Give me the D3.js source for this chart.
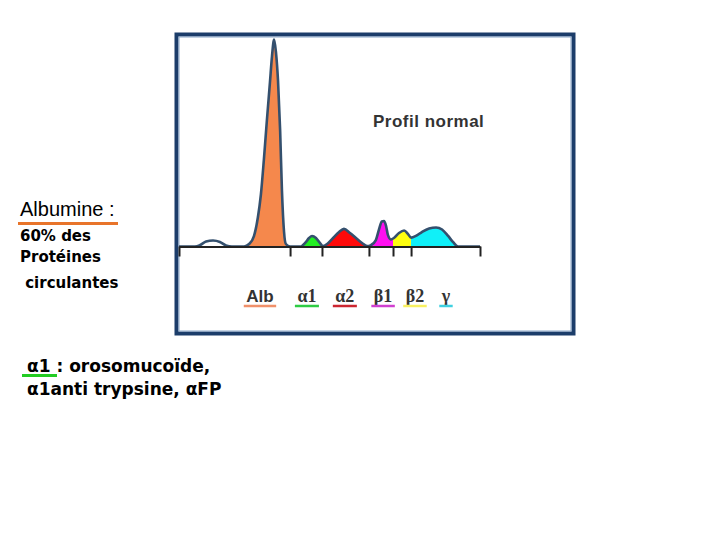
<!DOCTYPE html>
<html>
<head>
<meta charset="utf-8">
<script src="https://cdn.jsdelivr.net/npm/d3@7"></script>
<style>
  body { margin: 0; background: #fff; }
  svg { display: block; }
</style>
</head>
<body>
<div id="chart"></div>
<script>
// Serum protein electrophoresis - normal profile
// densitometry trace (mobility 0-100, density 0-100)
const mobility = [0, 5.3, 7.0, 9.0, 11.3, 13.6, 15.6, 17.6, 21.6, 23.3, 24.9, 26.2, 27.2, 28.2, 29.2, 30.2, 30.9, 31.6,
  32.2, 32.9, 33.6, 34.2, 34.9, 35.5, 36.9, 40.5, 41.9, 43.2, 44.2, 45.5, 46.8, 47.8, 49.2, 51.2, 53.2, 54.8, 56.8,
  58.8, 60.8, 62.5, 63.8, 65.4, 66.4, 67.4, 68.1, 68.8, 69.4, 70.4, 71.4, 73.1, 74.8, 76.1, 77.1, 78.7, 80.7, 83.1,
  85.4, 87.4, 89.4, 91.0, 92.7, 100];
const density = [0, 0, 0.7, 2.4, 2.9, 2.2, 0.5, 0, 0, 1.2, 5, 14, 25, 42, 61, 79, 92, 100,
  94, 80, 56, 27, 7, 1.2, 0, 0, 1.7, 4.1, 5.1, 4.1, 1.7, 0.2, 1.2, 4.1, 7, 8.5, 6.5,
  4.1, 1.7, 0.2, 0.7, 3.1, 8, 12.1, 12.3, 9.9, 5.6, 3.4, 4.1, 6.5, 7.7, 6, 4.3, 5.1, 7, 8.7,
  9.2, 8.2, 5.1, 2.2, 0, 0];

const fractions = ["Alb", "α1", "α2", "β1", "β2", "γ"];
const fractionStart = [20, 36.9, 47.5, 63.1, 71.1, 77.1];
const fractionEnd = [36.9, 47.5, 63.1, 71.1, 77.1, 100];
const fractionLabelAt = [26.9, 42.5, 55.1, 67.8, 78.4, 88.7];
const boundaries = [0, 36.9, 47.5, 63.1, 71.1, 77.1, 100];
const fillColors = ["#f5884c", "#22ee22", "#ff0a0a", "#ff10f0", "#ffff10", "#10f0f8"];
const lineColors = ["#f0906a", "#2ecc44", "#cc2630", "#d040d0", "#f8f060", "#40d0e0"];

const profile = mobility.map((m, i) => ({ m: m, d: density[i] }));

const svg = d3.select("#chart").append("svg")
  .attr("width", 720)
  .attr("height", 540);

svg.append("rect").attr("width", 720).attr("height", 540).attr("fill", "#fff");

// frame
svg.append("rect")
  .attr("x", 176.5).attr("y", 34.5)
  .attr("width", 397).attr("height", 299)
  .attr("fill", "none")
  .attr("stroke", "#1c3d6a")
  .attr("stroke-width", 4);
svg.append("rect")
  .attr("x", 179).attr("y", 37)
  .attr("width", 392).attr("height", 294)
  .attr("fill", "none")
  .attr("stroke", "#8aa6c8")
  .attr("stroke-width", 1);

const x = d3.scaleLinear().domain([0, 100]).range([179, 480]);
const y = d3.scaleLinear().domain([0, 100]).range([246.5, 39.5]);

const area = d3.area()
  .x(d => x(d.m))
  .y0(y(0))
  .y1(d => y(d.d))
  .curve(d3.curveMonotoneX);

const line = d3.line()
  .x(d => x(d.m))
  .y(d => y(d.d))
  .curve(d3.curveMonotoneX);

const defs = svg.append("defs");
fractions.forEach((f, i) => {
  defs.append("clipPath").attr("id", "clip" + i)
    .append("rect")
    .attr("x", x(fractionStart[i]))
    .attr("y", 0)
    .attr("width", x(fractionEnd[i]) - x(fractionStart[i]))
    .attr("height", 540);
});

fractions.forEach((f, i) => {
  svg.append("path")
    .datum(profile)
    .attr("clip-path", `url(#clip${i})`)
    .attr("d", area)
    .attr("fill", fillColors[i]);
});

svg.append("path")
  .datum(profile)
  .attr("d", line)
  .attr("fill", "none")
  .attr("stroke", "#34506e")
  .attr("stroke-width", 2.6)
  .attr("stroke-linejoin", "round");

// baseline with fraction boundaries
const axis = svg.append("g")
  .attr("transform", `translate(0,${y(0)})`)
  .call(d3.axisBottom(x).tickValues(boundaries).tickSize(10).tickSizeOuter(0).tickFormat(""));
axis.select(".domain").attr("stroke", "#222").attr("stroke-width", 2);
axis.selectAll(".tick line").attr("stroke", "#222").attr("stroke-width", 2);

// fraction labels with coloured underline
const labels = svg.append("g");
fractions.forEach((f, i) => {
  const t = labels.append("text")
    .attr("x", x(fractionLabelAt[i]))
    .attr("y", 302)
    .attr("text-anchor", "middle")
    .attr("font-family", i === 0 ? "Liberation Sans, Arial, sans-serif" : "Liberation Serif, serif")
    .attr("font-weight", "bold")
    .attr("font-size", i === 0 ? 17 : 18)
    .attr("fill", "#333")
    .text(f);
  const w = t.node().getComputedTextLength() + 5;
  labels.append("line")
    .attr("x1", x(fractionLabelAt[i]) - w / 2)
    .attr("x2", x(fractionLabelAt[i]) + w / 2)
    .attr("y1", 306).attr("y2", 306)
    .attr("stroke", lineColors[i])
    .attr("stroke-width", 2.5);
});

svg.append("text")
  .attr("x", 373).attr("y", 127)
  .attr("font-family", "Liberation Sans, Arial, sans-serif")
  .attr("font-weight", "bold")
  .attr("font-size", 17)
  .attr("letter-spacing", 0.5)
  .attr("fill", "#333")
  .text("Profil normal");

// side notes
svg.append("text")
  .attr("x", 20).attr("y", 216)
  .attr("font-family", "Liberation Sans, Arial, sans-serif")
  .attr("font-size", 20)
  .attr("fill", "#000")
  .text("Albumine :");
svg.append("line")
  .attr("x1", 18).attr("x2", 118)
  .attr("y1", 223.5).attr("y2", 223.5)
  .attr("stroke", "#e8742a")
  .attr("stroke-width", 3);

const noteLines = ["60% des", "Protéines", " circulantes"];
const noteY = [241, 262, 288];
noteLines.forEach((s, i) => {
  svg.append("text")
    .attr("x", 20).attr("y", noteY[i])
    .attr("xml:space", "preserve")
    .style("white-space", "pre")
    .attr("font-family", "DejaVu Sans, sans-serif")
    .attr("font-weight", "bold")
    .attr("font-size", 15)
    .attr("fill", "#000")
    .text(s);
});

svg.append("text")
  .attr("x", 27).attr("y", 372)
  .attr("font-family", "DejaVu Sans, sans-serif")
  .attr("font-weight", "bold")
  .attr("font-size", 17)
  .attr("fill", "#000")
  .text("α1 : orosomucoïde,");
svg.append("line")
  .attr("x1", 22).attr("x2", 57)
  .attr("y1", 375.5).attr("y2", 375.5)
  .attr("stroke", "#22cc22")
  .attr("stroke-width", 3);
svg.append("text")
  .attr("x", 27).attr("y", 395)
  .attr("font-family", "DejaVu Sans, sans-serif")
  .attr("font-weight", "bold")
  .attr("font-size", 17)
  .attr("fill", "#000")
  .text("α1anti trypsine, αFP");
</script>
</body>
</html>
